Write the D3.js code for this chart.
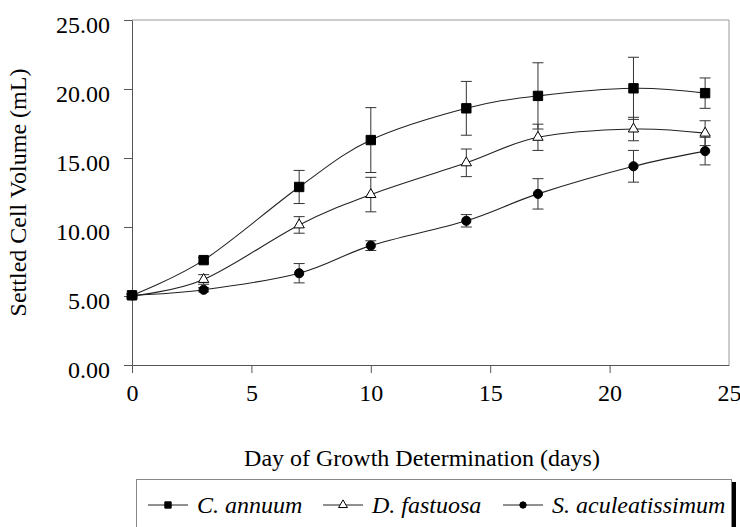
<!DOCTYPE html>
<html>
<head>
<meta charset="utf-8">
<script src="https://cdn.jsdelivr.net/npm/d3@7"></script>
<style>
  body { margin: 0; background: #fff; }
  svg text { font-family: 'Liberation Serif', Tinos, 'Times New Roman', Times, 'DejaVu Serif', serif !important; fill: #000; }
</style>
</head>
<body>
<div id="chart"></div>
<script>
// data
var days = [0, 3, 7, 10, 14, 17, 21, 24];

var annuum      = [5.05, 7.6, 12.9, 16.3, 18.6, 19.5, 20.05, 19.7];
var annuumErr   = [0.1, 0.2, 1.2, 2.35, 1.95, 2.4, 2.25, 1.1];
var fastuosa    = [5.0, 6.2, 10.15, 12.35, 14.65, 16.5, 17.1, 16.8];
var fastuosaErr = [0.1, 0.35, 0.6, 1.25, 1.0, 0.95, 0.85, 0.9];
var acule       = [5.05, 5.45, 6.65, 8.65, 10.45, 12.4, 14.4, 15.5];
var aculeErr    = [0.1, 0.15, 0.7, 0.35, 0.45, 1.1, 1.15, 1.0];

var seriesNames = ["C. annuum", "D. fastuosa", "S. aculeatissimum"];
var xTicks = [0, 5, 10, 15, 20, 25];
var yTicks = [0, 5, 10, 15, 20, 25];

var svgWidth = 740, svgHeight = 527;
var margin = {top: 20, right: 11, bottom: 162, left: 132},
    width  = svgWidth - margin.left - margin.right,
    height = svgHeight - margin.top - margin.bottom;

var serif = "'Liberation Serif', Tinos, 'Times New Roman', Times, 'DejaVu Serif', serif";

var svg = d3.select("#chart").append("svg")
    .attr("width", svgWidth)
    .attr("height", svgHeight)
    .attr("font-family", serif);

var x = d3.scaleLinear().domain([0, 25]).range([0, width]);
var y = d3.scaleLinear().domain([0, 25]).range([height, 0]);

var g = svg.append("g")
    .attr("transform", `translate(${margin.left}, ${margin.top})`);

// plot frame (top / right light grey)
g.append("line").attr("x1", 0).attr("x2", width).attr("y1", 0).attr("y2", 0)
    .attr("stroke", "#9a9a9a");
g.append("line").attr("x1", width).attr("x2", width).attr("y1", 0).attr("y2", height)
    .attr("stroke", "#9a9a9a");

// axes
var yAxis = g.append("g")
    .call(d3.axisLeft(y).tickValues(yTicks).tickFormat(d3.format(".2f")).tickSize(8).tickSizeOuter(0).tickPadding(14));
yAxis.selectAll("text").attr("dy", "0.5em");

var xAxis = g.append("g")
    .attr("transform", `translate(0, ${height})`)
    .call(d3.axisBottom(x).tickValues(xTicks).tickSize(8).tickSizeOuter(0).tickPadding(28));
xAxis.selectAll("text").attr("dy", "0");

[yAxis, xAxis].forEach(a => {
    a.attr("font-family", serif).attr("font-size", 24);
    a.select(".domain").attr("stroke", "#555");
    a.selectAll(".tick line").attr("stroke", "#555");
    a.selectAll("text").attr("fill", "#000");
});
xAxis.selectAll(".tick").filter(d => d === 25).select("line").remove();

// axis titles
svg.append("text")
    .attr("transform", `translate(26, ${margin.top + height / 2}) rotate(-90)`)
    .attr("text-anchor", "middle")
    .attr("font-size", 24)
    .text("Settled Cell Volume (mL)");

svg.append("text")
    .attr("x", 422)
    .attr("y", 466)
    .attr("text-anchor", "middle")
    .attr("font-size", 24)
    .text("Day of Growth Determination (days)");

var series = [
    {name: seriesNames[0], v: annuum, e: annuumErr, sym: d3.symbolSquare, size: 88, fill: "#000"},
    {name: seriesNames[1], v: fastuosa, e: fastuosaErr, sym: d3.symbolTriangle, size: 46, fill: "#fff"},
    {name: seriesNames[2], v: acule, e: aculeErr, sym: d3.symbolCircle, size: 66, fill: "#000"}
];

var line = d3.line()
    .x((d, i) => x(days[i]))
    .y(d => y(d))
    .curve(d3.curveCardinal.tension(0));

var cap = 5.5;

// error bars
series.forEach(s => {
    var eb = g.append("g").attr("stroke", "#333").attr("stroke-width", 1);
    s.v.forEach((v, i) => {
        var cx = x(days[i]), top = y(v + s.e[i]), bot = y(v - s.e[i]);
        eb.append("line").attr("x1", cx).attr("x2", cx).attr("y1", top).attr("y2", bot);
        eb.append("line").attr("x1", cx - cap).attr("x2", cx + cap).attr("y1", top).attr("y2", top);
        eb.append("line").attr("x1", cx - cap).attr("x2", cx + cap).attr("y1", bot).attr("y2", bot);
    });
});

// lines
series.forEach(s => {
    g.append("path")
        .datum(s.v)
        .attr("fill", "none")
        .attr("stroke", "#222")
        .attr("stroke-width", 1.1)
        .attr("d", line);
});

// markers (C. annuum on top)
[series[2], series[1], series[0]].forEach(s => {
    g.append("g").selectAll("path")
        .data(s.v)
        .enter().append("path")
        .attr("transform", (d, i) => `translate(${x(days[i])}, ${y(d)})`)
        .attr("d", d3.symbol().type(s.sym).size(s.size))
        .attr("fill", s.fill)
        .attr("stroke", "#000")
        .attr("stroke-width", 1);
});

// legend
var legend = svg.append("g");
legend.append("rect")
    .attr("x", 732).attr("y", 482).attr("width", 4).attr("height", 60)
    .attr("fill", "#000");
legend.append("rect")
    .attr("x", 136.5).attr("y", 479.5).attr("width", 595).attr("height", 60)
    .attr("fill", "#fff").attr("stroke", "#888");

var legendX = [148, 323, 503];
var legendSizes = [40, 34, 32];
series.forEach((s, i) => {
    var lx = legendX[i], ly = 505;
    legend.append("line")
        .attr("x1", lx).attr("x2", lx + 40).attr("y1", ly).attr("y2", ly)
        .attr("stroke", "#222").attr("stroke-width", 1.1);
    legend.append("path")
        .attr("transform", `translate(${lx + 20}, ${ly})`)
        .attr("d", d3.symbol().type(s.sym).size(legendSizes[i]))
        .attr("fill", s.fill).attr("stroke", "#000");
    legend.append("text")
        .attr("x", lx + 49)
        .attr("y", 513)
        .attr("font-size", 24)
        .attr("font-style", "italic")
        .text(s.name);
});
</script>
</body>
</html>
